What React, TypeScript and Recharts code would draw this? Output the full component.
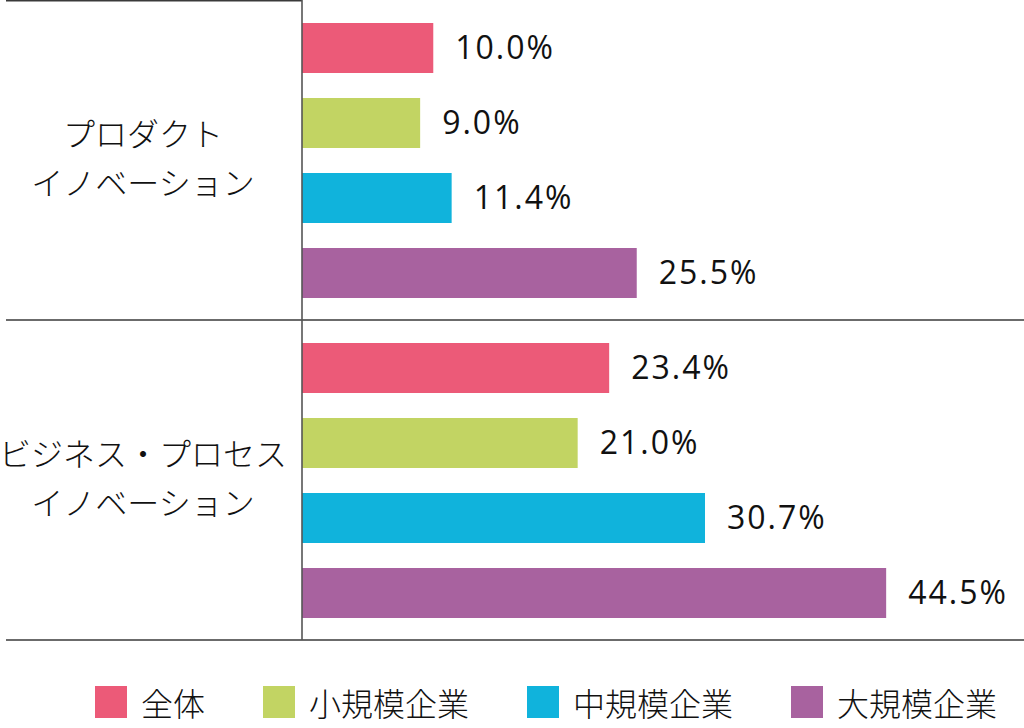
import React from "react";
import {
  BarChart, Bar, XAxis, YAxis, LabelList, Legend, usePlotArea,
} from "recharts";

const categories = ["プロダクト\nイノベーション", "ビジネス・プロセス\nイノベーション"];
const seriesNames = ["全体", "小規模企業", "中規模企業", "大規模企業"];
const zentai   = [10.0, 23.4];
const shokibo  = [9.0, 21.0];
const chukibo  = [11.4, 30.7];
const daikibo  = [25.5, 44.5];

const COLORS = ["#ec5a78", "#c2d463", "#10b3dc", "#a8629f"];
const KEYS = ["s0", "s1", "s2", "s3"];

const data = categories.map((c, i) => ({
  name: c,
  s0: zentai[i],
  s1: shokibo[i],
  s2: chukibo[i],
  s3: daikibo[i],
}));

const JP = "'Noto Sans CJK JP', 'Noto Sans', sans-serif";
const NUM = "'Open Sans', 'Noto Sans', sans-serif";

function CategoryTick({ x, y, payload }: any) {
  const lines = String(payload.value).split("\n");
  return (
    <g>
      {lines.map((ln, i) => (
        <text
          key={i}
          x={x - 159}
          y={y - 28 + i * 49}
          textAnchor="middle"
          dominantBaseline="central"
          fontFamily={JP}
          fontSize={32}
          fontWeight={300}
          fill="#111"
        >
          {ln}
        </text>
      ))}
    </g>
  );
}

// top rule only over the label column; the middle and bottom rules run full width
function Dividers() {
  const p = usePlotArea();
  if (!p) return null;
  const right = p.x + p.width;
  return (
    <g stroke="#3a3a3a" strokeWidth={1.6}>
      <line x1={6} x2={p.x} y1={p.y + 0.8} y2={p.y + 0.8} />
      <line x1={6} x2={right} y1={p.y + p.height / 2} y2={p.y + p.height / 2} />
      <line x1={6} x2={right} y1={p.y + p.height} y2={p.y + p.height} />
    </g>
  );
}

function LegendContent() {
  return (
    <div style={{ display: "flex", alignItems: "center", paddingLeft: 95, height: 32, whiteSpace: "nowrap" }}>
      {seriesNames.map((n, i) => (
        <div key={n} style={{ display: "flex", alignItems: "center", marginRight: 58, flexShrink: 0 }}>
          <span style={{ width: 32, height: 32, background: COLORS[i], display: "inline-block", marginRight: 14 }} />
          <span style={{ fontFamily: JP, fontWeight: 300, fontSize: 32, color: "#111", lineHeight: "32px" }}>{n}</span>
        </div>
      ))}
    </div>
  );
}

export default function App() {
  return (
    <div style={{ position: "absolute", top: 0, left: 0, width: 1024, height: 728, background: "#fff" }}>
      <BarChart
        width={1024}
        height={728}
        data={data}
        layout="vertical"
        margin={{ top: 0, right: 0, left: 0, bottom: 56 }}
        barSize={50}
        barGap={25}
      >
        <XAxis type="number" domain={[0, 55]} hide />
        <YAxis
          type="category"
          dataKey="name"
          width={302}
          tick={<CategoryTick />}
          tickLine={false}
          tickSize={0}
          tickMargin={0}
          axisLine={{ stroke: "#555", strokeWidth: 1.6 }}
        />
        <Dividers />
        {KEYS.map((k, i) => (
          <Bar key={k} dataKey={k} name={seriesNames[i]} fill={COLORS[i]} isAnimationActive={false}>
            <LabelList
              dataKey={k}
              position="right"
              offset={22}
              formatter={(v: any) => `${Number(v).toFixed(1)}%`}
              style={{ fontFamily: NUM, fontSize: 32, letterSpacing: 2, fill: "#111" }}
            />
          </Bar>
        ))}
        <Legend
          content={<LegendContent />}
          verticalAlign="bottom"
          wrapperStyle={{ top: 686, left: 0, width: 1024, height: 32 }}
        />
      </BarChart>
    </div>
  );
}
